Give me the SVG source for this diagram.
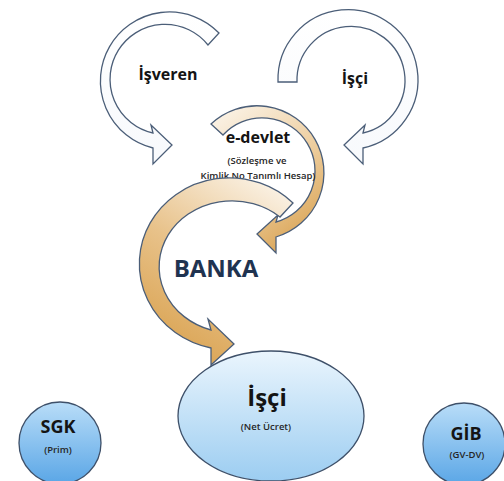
<svg xmlns="http://www.w3.org/2000/svg" width="504" height="481" viewBox="0 0 504 481">
<defs>
<linearGradient id="gLine" x1="0" y1="0" x2="0" y2="1">
<stop offset="0" stop-color="#3f4f66"/><stop offset="0.5" stop-color="#9aa9be"/><stop offset="1" stop-color="#c9d2df"/>
</linearGradient>
<linearGradient id="gWhite" x1="0" y1="0" x2="0" y2="1">
<stop offset="0" stop-color="#ffffff"/><stop offset="1" stop-color="#f7f9fc"/>
</linearGradient>
<linearGradient id="gOr1" gradientUnits="userSpaceOnUse" x1="220" y1="110" x2="320" y2="240">
<stop offset="0" stop-color="#fbf3e7"/><stop offset="0.55" stop-color="#eccb9a"/><stop offset="1" stop-color="#d79f4c"/>
</linearGradient>
<linearGradient id="gOr2" gradientUnits="userSpaceOnUse" x1="280" y1="185" x2="170" y2="360">
<stop offset="0" stop-color="#fbf3e7"/><stop offset="0.5" stop-color="#e8c28a"/><stop offset="1" stop-color="#d9a14e"/>
</linearGradient>
<linearGradient id="gEll" x1="0" y1="0" x2="0" y2="1">
<stop offset="0" stop-color="#eaf5fd"/><stop offset="1" stop-color="#9ccdf1"/>
</linearGradient>
<linearGradient id="gCirc" x1="0" y1="0" x2="0" y2="1">
<stop offset="0" stop-color="#b9ddf8"/><stop offset="1" stop-color="#5aa6e6"/>
</linearGradient>
</defs>
<style>
.wa{fill:url(#gWhite);stroke:#4b5e78;stroke-width:1.3;stroke-linejoin:miter}
.oa{stroke:#4b5e78;stroke-width:1.3}
.nd{stroke:#3e5069;stroke-width:1.3}
.t{font-family:"Open Sans","Liberation Sans",sans-serif;text-anchor:middle}
.b{font-weight:700;fill:#141414}
.s{font-size:9.5px;font-weight:600;fill:#262626}
</style>
<line x1="11" y1="5" x2="11" y2="481" stroke="url(#gLine)" stroke-width="1.6"/>
<g id="isveren">
<path class="wa" d="M219,33 A69,69 0 1 0 153,148 L153,164 L172,145 L151,125 L153,133 A55,55 0 1 1 208,45 Z"/>
<text class="t b" x="168" y="80" font-size="16">İşveren</text>
</g>
<g id="isci-top">
<path class="wa" d="M278,82 A70,70 0 1 1 363,148 L363,164 L344,145 L365,125 L363,133 A54,54 0 1 0 297,82 Z"/>
<text class="t b" x="355" y="84" font-size="16">İşçi</text>
</g>
<g id="e-devlet">
<path class="oa" fill="url(#gOr1)" d="M211,124 A67,67 0 1 1 276,237 L276,253 L257,234 L278,215 L276,222 A53,53 0 1 0 223,135 Z"/>
<text class="t b" x="258" y="143" font-size="16">e-devlet</text>
<text class="t s" x="257" y="164">(Sözleşme ve</text>
<text class="t s" x="258" y="179">Kimlik No Tanımlı Hesap)</text>
</g>
<g id="banka">
<path class="oa" fill="url(#gOr2)" d="M293,203 A90,86 0 1 0 211,348 L211,365 L234,344 L208,319 L211,330 A73,66 0 1 1 280,217 Z"/>
<text class="t" x="216" y="277" font-size="24" font-weight="700" fill="#1f3350">BANKA</text>
</g>
<g id="isci">
<ellipse class="nd" cx="271" cy="416" rx="93" ry="65" fill="url(#gEll)"/>
<text class="t b" x="267" y="406" font-size="24">İşçi</text>
<text class="t s" x="266" y="430">(Net Ücret)</text>
</g>
<g id="sgk">
<circle class="nd" cx="60" cy="443" r="41" fill="url(#gCirc)"/>
<text class="t b" x="58" y="433" font-size="18">SGK</text>
<text class="t s" x="58" y="453">(Prim)</text>
</g>
<g id="gib">
<circle class="nd" cx="464" cy="444" r="41" fill="url(#gCirc)"/>
<text class="t b" x="466" y="440" font-size="18">GİB</text>
<text class="t s" x="467" y="458">(GV-DV)</text>
</g>
<g id="connectors"/>
</svg>
